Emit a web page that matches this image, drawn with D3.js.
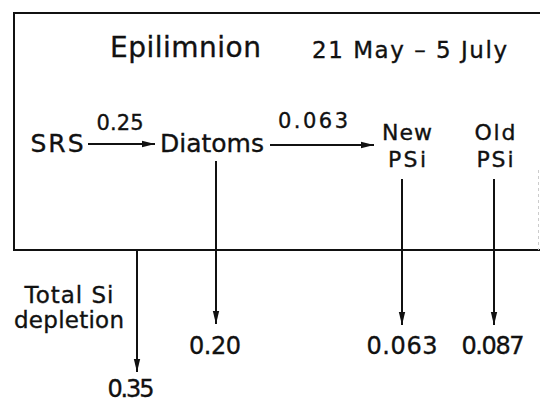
<!DOCTYPE html>
<meta charset="utf-8">
<script src="https://d3js.org/d3.v7.min.js"></script>
<style>
  body { margin: 0; background: #fff; }
  text { font-family: "DejaVu Sans", "Liberation Sans", Arial, sans-serif; fill: #111; stroke: #111; stroke-width: 0.35px; }
</style>
<body>
<script>

// diagram content
var title = "Epilimnion";
var period = "21 May \u2013 5 July";
var nodes = ["SRS", "Diatoms", "New PSi", "Old PSi"];
var nodeLines = [["SRS"], ["Diatoms"], ["New", "PSi"], ["Old", "PSi"]];

// transfers inside the box
var flowFrom = ["SRS", "Diatoms"];
var flowTo = ["Diatoms", "New PSi"];
var flowValues = [0.25, 0.063];

// losses out of the box (bottom arrows)
var outFrom = ["Diatoms", "New PSi", "Old PSi", "Total"];
var outValues = [0.20, 0.063, 0.087, 0.35];
var totalLabel = ["Total Si", "depletion"];

var width = 540,
    height = 403;

var svg = d3.select("body").append("svg")
    .attr("width", width)
    .attr("height", height);

// column positions of each node / arrow
var xCol = d3.scaleOrdinal()
    .domain(["Total", "SRS", "Diatoms", "New PSi", "Old PSi"])
    .range([137, 57, 216, 402, 494]);

// row positions (baselines and arrow levels)
var yRow = d3.scaleOrdinal()
    .domain(["boxTop", "title", "flowLabel", "flow", "node", "boxBottom", "outLabel", "totalLabel"])
    .range([13, 57, 130, 144, 152, 250, 354, 397]);

var fmt = function(v) { return v < 0.1 ? d3.format(".3f")(v) : d3.format(".2f")(v); };

// arrowhead
svg.append("defs").append("marker")
    .attr("id", "arrow")
    .attr("markerUnits", "userSpaceOnUse")
    .attr("viewBox", "0 -4 13 8")
    .attr("refX", 13)
    .attr("refY", 0)
    .attr("markerWidth", 13)
    .attr("markerHeight", 8)
    .attr("orient", "auto")
    .append("path")
    .attr("d", "M0,-3.2L13,0L0,3.2Z")
    .style("fill", "#111");

// the box (open on the right)
svg.append("path")
    .attr("d", "M" + width + "," + yRow("boxTop") + "H14V" + yRow("boxBottom") + "H" + width)
    .style("fill", "none")
    .style("stroke", "#111")
    .style("stroke-width", 2);

svg.append("line")
    .attr("x1", 538.5).attr("x2", 538.5)
    .attr("y1", 170).attr("y2", yRow("boxBottom"))
    .style("stroke", "#ccc")
    .style("stroke-dasharray", "3,3");

// headings
svg.append("text")
    .attr("x", 110).attr("y", yRow("title"))
    .attr("textLength", 151)
    .style("font-size", "28px")
    .text(title);

svg.append("text")
    .attr("x", 312).attr("y", yRow("title") + 1)
    .attr("textLength", 195)
    .style("font-size", "23px")
    .text(period);

// node labels
var nodeLen = { "SRS": [53], "Diatoms": [104], "New PSi": [50, 38], "Old PSi": [41, 37] };
var nodeX = { "SRS": 57, "Diatoms": 212, "New PSi": 407, "Old PSi": 495 };

nodes.forEach(function(n, i) {
    var lines = nodeLines[i];
    var base = lines.length > 1 ? 140 : yRow("node");
    lines.forEach(function(l, j) {
        svg.append("text")
            .attr("x", nodeX[n])
            .attr("y", base + j * 27)
            .attr("text-anchor", "middle")
            .attr("textLength", nodeLen[n][j])
            .style("font-size", lines.length > 1 ? "22px" : "25px")
            .text(l);
    });
});

// horizontal transfer arrows
var flowX1 = { "SRS": 88, "Diatoms": 270 };
var flowX2 = { "Diatoms": 155, "New PSi": 374 };
var flowLabelX = [120, 313];
var flowLabelLen = [47, 70];

flowValues.forEach(function(v, i) {
    var y = yRow("flow") + i;
    svg.append("line")
        .attr("x1", flowX1[flowFrom[i]])
        .attr("x2", flowX2[flowTo[i]])
        .attr("y1", y).attr("y2", y)
        .style("stroke", "#111")
        .style("stroke-width", 2)
        .attr("marker-end", "url(#arrow)");

    svg.append("text")
        .attr("x", flowLabelX[i])
        .attr("y", yRow("flowLabel") - i * 2)
        .attr("text-anchor", "middle")
        .attr("textLength", flowLabelLen[i])
        .style("font-size", "21px")
        .text(fmt(v));
});

// vertical loss arrows
var outY1 = { "Diatoms": 161, "New PSi": 179, "Old PSi": 179, "Total": yRow("boxBottom") };
var outY2 = { "Diatoms": 324, "New PSi": 325, "Old PSi": 325, "Total": 372 };
var outLabelX = { "Diatoms": 215, "New PSi": 402, "Old PSi": 493, "Total": 131 };
var outLabelLen = { "Diatoms": 52, "New PSi": 71, "Old PSi": 63, "Total": 47 };

outValues.forEach(function(v, i) {
    var n = outFrom[i];
    svg.append("line")
        .attr("x1", xCol(n)).attr("x2", xCol(n))
        .attr("y1", outY1[n]).attr("y2", outY2[n])
        .style("stroke", "#111")
        .style("stroke-width", 2)
        .attr("marker-end", "url(#arrow)");

    svg.append("text")
        .attr("x", outLabelX[n])
        .attr("y", n === "Total" ? yRow("totalLabel") : yRow("outLabel"))
        .attr("text-anchor", "middle")
        .attr("textLength", outLabelLen[n])
        .style("font-size", "24px")
        .text(fmt(v));
});

// "Total Si depletion" caption
var totalLen = [89, 110];
totalLabel.forEach(function(l, j) {
    svg.append("text")
        .attr("x", 69)
        .attr("y", 303 + j * 25)
        .attr("text-anchor", "middle")
        .attr("textLength", totalLen[j])
        .style("font-size", "23px")
        .text(l);
});

</script>
</body>
